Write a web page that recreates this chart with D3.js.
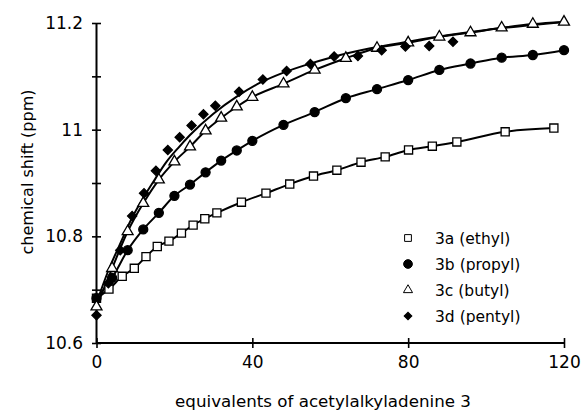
<!DOCTYPE html>
<html><head><meta charset="utf-8">
<script src="https://cdn.jsdelivr.net/npm/d3@7"></script>
<style>
html,body{margin:0;padding:0;background:#fff;}
text{font-family:"DejaVu Sans",sans-serif;fill:#000;}
</style></head>
<body><svg id="c" width="583" height="415"></svg>
<script>
// ---- data ----
const xA = [0,3.2,6.6,9.7,12.7,15.6,18.6,21.8,24.8,27.8,30.9,37.2,43.5,49.6,55.7,61.7,67.9,74.1,80.1,86.2,92.5,104.9,117.4];
const yA = [10.684,10.701,10.725,10.740,10.762,10.781,10.791,10.806,10.821,10.833,10.844,10.864,10.881,10.898,10.913,10.924,10.939,10.949,10.962,10.969,10.977,10.996,11.003];

const xB = [0,4,8,12,16,20,24,28,32,36,40,48,56,64,72,80,88,96,104,112,120];
const yB = [10.684,10.722,10.774,10.813,10.844,10.876,10.897,10.920,10.942,10.961,10.979,11.009,11.033,11.059,11.076,11.093,11.112,11.124,11.135,11.140,11.149];

const xC = [0,4,8,12,16,20,24,28,32,36,40,48,56,64,72,80,88,96,104,112,120];
const yC = [10.668,10.740,10.809,10.862,10.906,10.940,10.968,10.998,11.022,11.043,11.061,11.086,11.112,11.134,11.153,11.163,11.174,11.182,11.191,11.198,11.202];

const xD = [0,3.05,6.1,9.15,12.2,15.25,18.3,21.35,24.4,27.45,30.5,36.6,42.7,48.8,54.9,61,67.1,73.2,79.3,85.4,91.5];
const yD = [10.652,10.712,10.774,10.838,10.881,10.923,10.962,10.986,11.008,11.029,11.045,11.071,11.094,11.110,11.123,11.137,11.138,11.149,11.156,11.157,11.165];

// fitted curve drawn through the 3d (pentyl) data
const xFitD = [0,3,6,9,12,15,18,21,24,30,36,42,48,54,60,70,80,90,100,110,120];
const yFitD = [10.675,10.735,10.785,10.833,10.872,10.907,10.940,10.966,10.990,11.030,11.062,11.088,11.107,11.122,11.135,11.152,11.165,11.177,11.187,11.195,11.202];

const seriesNames = ["3a (ethyl)","3b (propyl)","3c (butyl)","3d (pentyl)"];
const xTicks = [0,40,80,120];
const yTicks = [10.6,10.7,10.8,10.9,11.0,11.1,11.2];
const yLabelTicks = [10.6,10.8,11.0,11.2];
const xTitle = "equivalents of acetylalkyladenine 3";
const yTitle = "chemical shift (ppm)";

// ---- drawing ----
const svg = d3.select("#c");
const x = d3.scaleLinear().domain([0,120]).range([96.5,564]);
const y = d3.scaleLinear().domain([10.6,11.2]).range([343,23]);

const zip = (xs,ys)=>xs.map((v,i)=>[v,ys[i]]);
const dA = zip(xA,yA), dB = zip(xB,yB), dC = zip(xC,yC), dD = zip(xD,yD), dFit = zip(xFitD,yFitD);

const line = d3.line().x(d=>x(d[0])).y(d=>y(d[1])).curve(d3.curveMonotoneX);
const g = svg.append("g");
[dA,dB,dC,dFit].forEach(d=>{
  g.append("path").attr("d",line(d)).attr("fill","none").attr("stroke","#000").attr("stroke-width",2);
});

// axes
const yAxL = svg.append("g").attr("transform","translate(96.5,0)")
  .call(d3.axisLeft(y).tickValues(yTicks).tickSize(4.5).tickPadding(9)
    .tickFormat(d=>yLabelTicks.some(v=>Math.abs(v-d)<1e-9)? d3.format("")(+d.toFixed(1)) : ""));
const yAxR = svg.append("g").attr("transform","translate(96.5,0)")
  .call(d3.axisRight(y).tickValues(yTicks).tickSize(4.5).tickFormat(""));
const xAxB = svg.append("g").attr("transform","translate(0,343)")
  .call(d3.axisBottom(x).tickValues(xTicks).tickSize(5).tickPadding(7.5).tickFormat(d3.format("d")));
const xAxT = svg.append("g").attr("transform","translate(0,343)")
  .call(d3.axisTop(x).tickValues(xTicks).tickSize(5).tickFormat(""));
[yAxL,yAxR,xAxB,xAxT].forEach(a=>{
  a.select(".domain").attr("stroke","#000").attr("stroke-width",2);
  a.selectAll(".tick line").attr("stroke","#000").attr("stroke-width",1.6);
  a.selectAll("text").style("font-family","DejaVu Sans").style("font-size","17px").attr("fill","#000");
});
yAxR.select(".domain").remove(); xAxT.select(".domain").remove();
yAxL.select(".domain").attr("d",`M0,${y(10.6)}V${y(11.2)}`);
xAxB.select(".domain").attr("d",`M${x(0)},0H${x(120)}`);

// markers
const sym = {
  sq: {s:d3.symbol().type(d3.symbolSquare).size(66), r:0},
  ci: {s:d3.symbol().type(d3.symbolCircle).size(64), r:0},
  tr: {s:d3.symbol().type(d3.symbolTriangle).size(52), r:0},
  di: {s:d3.symbol().type(d3.symbolSquare).size(42), r:45}
};
function pts(data, m, fill){
  svg.append("g").selectAll("path").data(data).join("path")
    .attr("transform",d=>`translate(${x(d[0])},${y(d[1])}) rotate(${m.r})`)
    .attr("d",m.s).attr("fill",fill).attr("stroke","#000").attr("stroke-width",1.3);
}
pts(dA, sym.sq, "#fff");
pts(dB, sym.ci, "#000");
pts(dC, sym.tr, "#fff");
pts(dD, sym.di, "#000");

// titles
svg.append("text").attr("x",323).attr("y",407).attr("text-anchor","middle")
  .style("font-size","16.7px").text(xTitle);
svg.append("text").attr("transform","translate(33,172) rotate(-90)").attr("text-anchor","middle")
  .style("font-size","16px").text(yTitle);

// legend
const legSyms = [
  {s:d3.symbol().type(d3.symbolSquare).size(46), f:"#fff", r:0},
  {s:d3.symbol().type(d3.symbolCircle).size(60), f:"#000", r:0},
  {s:d3.symbol().type(d3.symbolTriangle).size(36), f:"#fff", r:0},
  {s:d3.symbol().type(d3.symbolSquare).size(30), f:"#000", r:45}
];
const leg = svg.append("g");
seriesNames.forEach((n,i)=>{
  const cy = 238 + i*26;
  leg.append("path").attr("transform",`translate(408,${cy}) rotate(${legSyms[i].r})`).attr("d",legSyms[i].s)
    .attr("fill",legSyms[i].f).attr("stroke","#000").attr("stroke-width",1);
  leg.append("text").attr("x",435).attr("y",cy+5.5).style("font-size","15.5px").text(n);
});
</script></body></html>
